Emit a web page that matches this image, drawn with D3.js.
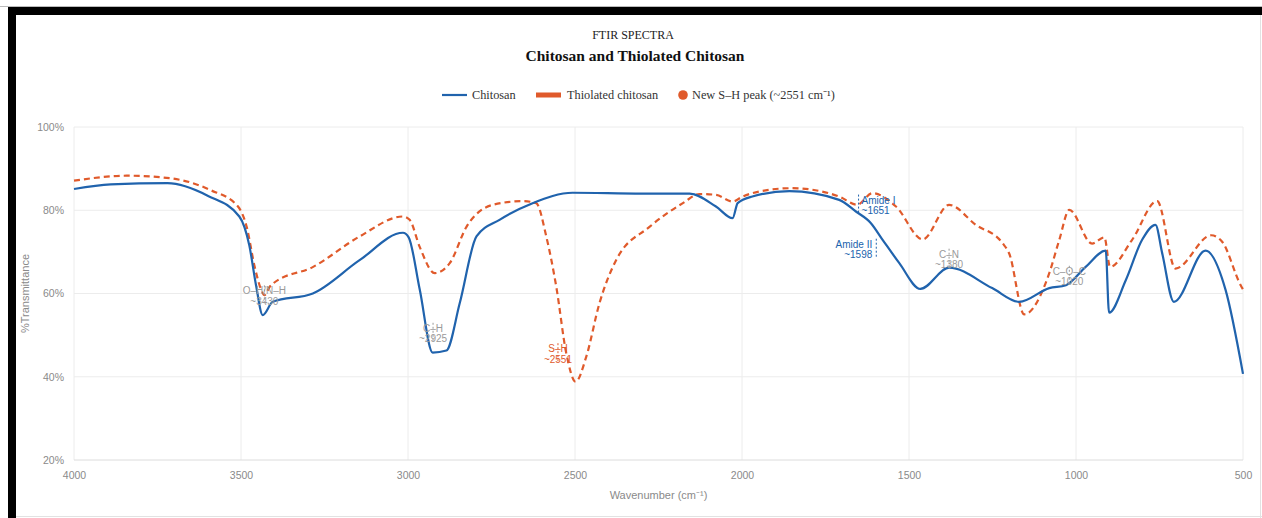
<!DOCTYPE html>
<html>
<head>
<meta charset="utf-8">
<script src="https://cdn.jsdelivr.net/npm/d3@7"></script>
<style>
  body { margin: 0; background: #fff; }
  svg { display: block; }
</style>
</head>
<body>
<svg id="chart"></svg>
<script>
// wavenumber (cm-1) / %T
const chitosanWn = [4000, 3890, 3720, 3600, 3505, 3475, 3455, 3435, 3405, 3285, 3145, 3015, 2998, 2965, 2926, 2885, 2845, 2795, 2726, 2627, 2507, 2300, 2157, 2078, 2028, 2013, 1969, 1858, 1709, 1659, 1614, 1579, 1529, 1466, 1380, 1251, 1170, 1080, 1030, 971, 911, 901, 851, 802, 762, 742, 707, 612, 552, 500];
const chitosanT  = [85.1, 86.2, 86.5, 83.5, 78.5, 71.5, 62, 54.8, 58, 60, 68, 74.6, 73.5, 61, 45.8, 46.3, 57.7, 73.7, 77.7, 81.7, 84.2, 84, 84, 80.9, 78.1, 81.7, 83.3, 84.6, 82.5, 79.7, 76.9, 72.9, 67.3, 61.1, 66.2, 61.3, 58, 61.3, 62, 66.4, 70.3, 55.4, 63.2, 72.9, 76.5, 69.7, 58, 70.3, 60.8, 40.7];

const thiolWn = [4000, 3842, 3713, 3593, 3509, 3483, 3459, 3440, 3430, 3415, 3404, 3284, 3145, 3015, 2995, 2965, 2920, 2875, 2825, 2746, 2656, 2616, 2586, 2556, 2526, 2498, 2466, 2427, 2377, 2277, 2177, 2127, 2078, 2028, 1998, 1948, 1850, 1709, 1655, 1610, 1539, 1459, 1380, 1300, 1220, 1200, 1155, 1080, 1050, 1020, 952, 915, 898, 832, 757, 702, 595, 563, 507, 500];
const thiolT  = [87.1, 88.3, 87.7, 84.9, 80.9, 76, 66.4, 61, 59.6, 61.5, 62.4, 66.4, 73.7, 78.5, 77.7, 71.2, 64.9, 67.3, 76, 81.3, 82.2, 81.7, 73.7, 61.6, 45.6, 38.8, 44.9, 57.6, 68, 76, 81.7, 83.9, 83.7, 82.1, 83.3, 84.5, 85.3, 83.3, 81.3, 84.1, 80.9, 73, 81.3, 76.5, 72.1, 69.6, 55, 64.9, 72.9, 80.1, 72, 73.5, 66.4, 72.9, 82.2, 66, 74, 72.5, 62, 61];

const xTicks = [4000, 3500, 3000, 2500, 2000, 1500, 1000, 500];
const yTicks = [20, 40, 60, 80, 100];

const seriesNames = ['Chitosan', 'Thiolated chitosan', 'New S\u2013H peak (~2551 cm\u207B\u00B9)'];

// peak labels: wavenumber, %T where the first text line sits, two lines, colour group
const peakWn    = [3430, 2925, 2551, 1651, 1598, 1380, 1020];
const peakT     = [59.8, 50.8, 45.9, 81.6, 71.0, 68.6, 64.5];
const peakLine1 = ['O\u2013H/N\u2013H', 'C\u2013H', 'S\u2013H', 'Amide I', 'Amide II', 'C\u2013N', 'C\u2013O\u2013C'];
const peakLine2 = ['~3430', '~2925', '~2551', '~1651', '~1598', '~1380', '~1020'];
const peakGroup = ['gray', 'gray', 'thiol', 'chitosan', 'chitosan', 'gray', 'gray'];
const peakAlign = ['middle', 'middle', 'middle', 'start', 'end', 'middle', 'middle'];

const W = 1262, H = 518;
const margin = {top: 127, right: 19, bottom: 58, left: 74};
const blue = '#2063ad', orange = '#e05a2b';
const colors = {gray: '#9a9a9a', chitosan: blue, thiol: orange};

const svg = d3.select('#chart').attr('width', W).attr('height', H);

const innerW = W - margin.left - margin.right;
const innerH = H - margin.top - margin.bottom;

const x = d3.scaleLinear().domain([4000, 500]).range([0, innerW]);
const y = d3.scaleLinear().domain([20, 100]).range([innerH, 0]);

const chart = svg.append('g')
    .attr('transform', `translate(${margin.left}, ${margin.top})`);

// grid
chart.append('g')
    .selectAll('line')
    .data(xTicks)
    .join('line')
    .attr('x1', d => x(d)).attr('x2', d => x(d))
    .attr('y1', 0).attr('y2', innerH)
    .attr('stroke', '#ececec');

chart.append('g')
    .selectAll('line')
    .data(yTicks)
    .join('line')
    .attr('x1', 0).attr('x2', innerW)
    .attr('y1', d => y(d)).attr('y2', d => y(d))
    .attr('stroke', d => d === 20 ? '#dcdcdc' : '#ececec');

// axes (labels only)
const xaxis = d3.axisBottom(x).tickValues(xTicks).tickSize(0).tickPadding(12).tickFormat(d3.format('d'));
const yaxis = d3.axisLeft(y).tickValues(yTicks).tickSize(0).tickPadding(10).tickFormat(d => d + '%');

const xg = chart.append('g').attr('transform', `translate(0, ${innerH})`).call(xaxis);
const yg = chart.append('g').call(yaxis);
[xg, yg].forEach(g => {
    g.select('.domain').remove();
    g.selectAll('text')
        .style('font-family', 'Liberation Sans, Arial, sans-serif')
        .style('font-size', '10.5px')
        .attr('fill', '#8a8a8a');
});

svg.append('text')
    .attr('x', margin.left + innerW / 2)
    .attr('y', 499)
    .attr('text-anchor', 'middle')
    .style('font-family', 'Liberation Sans, Arial, sans-serif')
    .style('font-size', '11px')
    .attr('fill', '#8a8a8a')
    .text('Wavenumber (cm\u207B\u00B9)');

svg.append('text')
    .attr('transform', 'rotate(-90)')
    .attr('x', -(margin.top + innerH / 2))
    .attr('y', 29)
    .attr('text-anchor', 'middle')
    .style('font-family', 'Liberation Sans, Arial, sans-serif')
    .style('font-size', '11px')
    .attr('fill', '#8a8a8a')
    .text('%Transmittance');

// lines
const line = d3.line()
    .x(d => x(d[0]))
    .y(d => y(d[1]))
    .curve(d3.curveMonotoneX);

const chitosanData = chitosanWn.map((w, i) => [w, chitosanT[i]]);
const thiolData = thiolWn.map((w, i) => [w, thiolT[i]]);

chart.append('path')
    .datum(thiolData)
    .attr('d', line)
    .attr('fill', 'none')
    .attr('stroke', orange)
    .attr('stroke-width', 2.2)
    .attr('stroke-dasharray', '6,4');

chart.append('path')
    .datum(chitosanData)
    .attr('d', line)
    .attr('fill', 'none')
    .attr('stroke', blue)
    .attr('stroke-width', 2.2);

// peak annotations
const peaks = peakWn.map((w, i) => ({
    wn: w, t: peakT[i], l1: peakLine1[i], l2: peakLine2[i],
    color: colors[peakGroup[i]], align: peakAlign[i]
}));

const pg = chart.append('g')
    .selectAll('g')
    .data(peaks)
    .join('g');

pg.append('line')
    .attr('x1', d => x(d.wn)).attr('x2', d => x(d.wn))
    .attr('y1', d => y(d.t) - 9)
    .attr('y2', d => y(d.t) + 11)
    .attr('stroke', d => d.color)
    .attr('stroke-width', 1)
    .attr('stroke-dasharray', '2,2');

const tx = d => d.align === 'start' ? x(d.wn) + 3 : d.align === 'end' ? x(d.wn) - 4 : x(d.wn);

pg.append('text')
    .attr('x', tx)
    .attr('y', d => y(d.t))
    .attr('text-anchor', d => d.align)
    .style('font-family', 'Liberation Sans, Arial, sans-serif')
    .style('font-size', '10px')
    .attr('fill', d => d.color)
    .text(d => d.l1);

pg.append('text')
    .attr('x', tx)
    .attr('y', d => y(d.t) + 10.5)
    .attr('text-anchor', d => d.align)
    .style('font-family', 'Liberation Sans, Arial, sans-serif')
    .style('font-size', '10px')
    .attr('fill', d => d.color)
    .text(d => d.l2);

// titles
svg.append('text')
    .attr('x', 633).attr('y', 39)
    .attr('text-anchor', 'middle')
    .style('font-family', 'Liberation Serif, Times New Roman, serif')
    .style('font-size', '12px')
    .attr('fill', '#222')
    .text('FTIR SPECTRA');

svg.append('text')
    .attr('x', 635).attr('y', 61)
    .attr('text-anchor', 'middle')
    .style('font-family', 'Liberation Serif, Times New Roman, serif')
    .style('font-size', '15.5px')
    .style('font-weight', 'bold')
    .attr('fill', '#111')
    .text('Chitosan and Thiolated Chitosan');

// legend
const legend = svg.append('g').attr('transform', 'translate(0, 95)');
const legX = [442, 536, 683];
const legTextX = [472, 567, 692];

legend.append('line')
    .attr('x1', legX[0]).attr('x2', legX[0] + 25)
    .attr('stroke', blue).attr('stroke-width', 2.2);
legend.append('rect')
    .attr('x', legX[1]).attr('y', -2.5)
    .attr('width', 25).attr('height', 5)
    .attr('fill', orange);
legend.append('circle')
    .attr('cx', legX[2]).attr('r', 4.8)
    .attr('fill', orange);

legend.selectAll('text')
    .data(seriesNames)
    .join('text')
    .attr('x', (d, i) => legTextX[i])
    .attr('y', 4)
    .style('font-family', 'Liberation Serif, Times New Roman, serif')
    .style('font-size', '12.3px')
    .attr('fill', '#333')
    .text(d => d);

// screenshot frame
svg.append('line').attr('x1', 0).attr('x2', W).attr('y1', 6.5).attr('y2', 6.5).attr('stroke', '#bbb');
svg.append('rect').attr('x', 8).attr('y', 7).attr('width', W - 8).attr('height', 8).attr('fill', '#000');
svg.append('rect').attr('x', 8).attr('y', 7).attr('width', 8).attr('height', H - 7).attr('fill', '#000');
svg.append('line').attr('x1', W - 1.5).attr('x2', W - 1.5).attr('y1', 15).attr('y2', H).attr('stroke', '#e2e2e2');
svg.append('line').attr('x1', 16).attr('x2', W).attr('y1', H - 1.5).attr('y2', H - 1.5).attr('stroke', '#e2e2e2');
</script>
</body>
</html>
